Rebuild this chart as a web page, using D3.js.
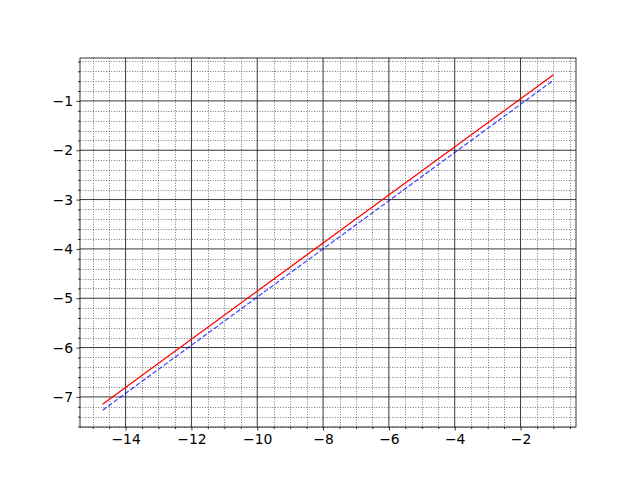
<!DOCTYPE html>
<html><head><meta charset="utf-8">
<script src="https://cdn.jsdelivr.net/npm/d3@7"></script>
<style>body{margin:0;background:#fff}</style>
</head><body><svg id="c" width="640" height="480"></svg>
<script>
const xVals = [-14.7, -8.0, -1.0];
const redVals = [-7.15, -3.88, -0.47];
const blueVals = [-7.27, -4.0, -0.58];
const xTicks = [-14, -12, -10, -8, -6, -4, -2];
const yTicks = [-7, -6, -5, -4, -3, -2, -1];

const svg = d3.select("#c");
const L = 80, R = 576, T = 58, B = 427;
const xmin = d3.min(xVals), xmax = d3.max(xVals);
const allY = redVals.concat(blueVals);
const ymin = d3.min(allY), ymax = d3.max(allY);
const px = (xmax - xmin) * 0.05, py = (ymax - ymin) * 0.05;
const x = d3.scaleLinear().domain([xmin - px, xmax + px]).range([L, R]);
const y = d3.scaleLinear().domain([ymin - py, ymax + py]).range([B, T]);

const xMinor = d3.range(-15, 0.01, 0.5).filter(v => v >= x.domain()[0] && v <= x.domain()[1] && Math.abs(v/2 - Math.round(v/2)) > 1e-6);
const yMinor = d3.range(-7.6, 0, 0.2).map(v => Math.round(v*10)/10).filter(v => v >= y.domain()[0] && v <= y.domain()[1] && Math.abs(v - Math.round(v)) > 1e-6);

const g = svg.append("g");
g.selectAll(".mgx").data(xMinor).enter().append("line")
  .attr("x1", d => Math.round(x(d)) + 0.5).attr("x2", d => Math.round(x(d)) + 0.5).attr("y1", T).attr("y2", B)
  .attr("stroke", "#555").attr("stroke-width", 0.8).attr("stroke-dasharray", "1,1.6");
g.selectAll(".mgy").data(yMinor).enter().append("line")
  .attr("y1", d => Math.round(y(d)) + 0.5).attr("y2", d => Math.round(y(d)) + 0.5).attr("x1", L).attr("x2", R)
  .attr("stroke", "#555").attr("stroke-width", 0.8).attr("stroke-dasharray", "1,1.6");
g.selectAll(".gx").data(xTicks).enter().append("line")
  .attr("x1", d => x(d)).attr("x2", d => x(d)).attr("y1", T).attr("y2", B)
  .attr("stroke", "#222").attr("stroke-width", 0.9);
g.selectAll(".gy").data(yTicks).enter().append("line")
  .attr("y1", d => y(d)).attr("y2", d => y(d)).attr("x1", L).attr("x2", R)
  .attr("stroke", "#222").attr("stroke-width", 0.9);

const line = d3.line().x(d => x(d[0])).y(d => y(d[1]));
svg.append("path").datum(xVals.map((v, i) => [v, redVals[i]]))
  .attr("d", line).attr("fill", "none").attr("stroke", "#ff0000").attr("stroke-width", 1.3);
svg.append("path").datum(xVals.map((v, i) => [v, blueVals[i]]))
  .attr("d", line).attr("fill", "none").attr("stroke", "#0000ff").attr("stroke-opacity", 0.7)
  .attr("stroke-width", 1.3).attr("stroke-dasharray", "4.8,2.1");

const fmt = d => d < 0 ? "\u2212" + Math.abs(d) : String(d);
const xAxis = svg.append("g").attr("transform", `translate(0,${B})`)
  .call(d3.axisBottom(x).tickValues(xTicks).tickFormat(fmt).tickSize(3.5).tickPadding(3.5));
const xAxisMinor = svg.append("g").attr("transform", `translate(0,${B})`)
  .call(d3.axisBottom(x).tickValues(xMinor).tickFormat("").tickSize(2));
const yAxis = svg.append("g").attr("transform", `translate(${L},0)`)
  .call(d3.axisLeft(y).tickValues(yTicks).tickFormat(fmt).tickSize(3.5).tickPadding(3.5));
const yAxisMinor = svg.append("g").attr("transform", `translate(${L},0)`)
  .call(d3.axisLeft(y).tickValues(yMinor).tickFormat("").tickSize(2));
[xAxis, xAxisMinor, yAxis, yAxisMinor].forEach(a => {
  a.select(".domain").remove();
  a.selectAll("line").attr("stroke", "#000").attr("stroke-width", 0.8);
  a.selectAll("text").attr("font-family", "DejaVu Sans").attr("font-size", "13.9px").attr("fill", "#000");
});
svg.append("rect").attr("x", L).attr("y", T).attr("width", R - L).attr("height", B - T)
  .attr("fill", "none").attr("stroke", "#000").attr("stroke-width", 0.8);
</script></body></html>
